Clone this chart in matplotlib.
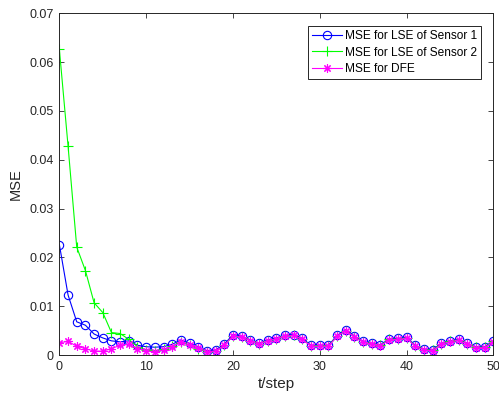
import matplotlib
matplotlib.use("Agg")
import matplotlib.pyplot as plt
import numpy as np

plt.rcParams['font.family'] = ['Liberation Sans', 'DejaVu Sans']

t = np.arange(0, 51)

# MSE for LSE of sensor 1
mse_s1 = [0.0226, 0.0123, 0.0068, 0.0061, 0.0043, 0.0035, 0.0029, 0.0027, 0.0029, 0.0020,
          0.0017, 0.0016, 0.0017, 0.0022, 0.0031, 0.0024, 0.0017, 0.0009, 0.0010, 0.0022,
          0.0042, 0.0039, 0.0031, 0.0024, 0.0031, 0.0035, 0.0040, 0.0042, 0.0034, 0.0020,
          0.0020, 0.0020, 0.0040, 0.0052, 0.0039, 0.0028, 0.0024, 0.0021, 0.0033, 0.0034,
          0.0036, 0.0020, 0.0012, 0.0011, 0.0024, 0.0029, 0.0032, 0.0024, 0.0017, 0.0017,
          0.0029]

# MSE for LSE of sensor 2
mse_s2 = [0.0626, 0.0428, 0.0221, 0.0173, 0.0107, 0.0087, 0.0046, 0.0044, 0.0032, 0.0017,
          0.0011, 0.0009, 0.0012, 0.0018, 0.0027, 0.0020, 0.0013, 0.0006, 0.0008, 0.0020,
          0.0039, 0.0037, 0.0029, 0.0023, 0.0029, 0.0033, 0.0038, 0.0040, 0.0032, 0.0019,
          0.0019, 0.0019, 0.0038, 0.0050, 0.0037, 0.0027, 0.0023, 0.0020, 0.0032, 0.0033,
          0.0035, 0.0019, 0.0011, 0.0010, 0.0023, 0.0028, 0.0031, 0.0023, 0.0016, 0.0016,
          0.0028]

# MSE for DFE
mse_dfe = [0.0025, 0.0028, 0.0018, 0.0013, 0.0008, 0.0008, 0.0013, 0.0020, 0.0022, 0.0013,
           0.0009, 0.0006, 0.0010, 0.0017, 0.0026, 0.0020, 0.0014, 0.0007, 0.0008, 0.0020,
           0.0039, 0.0037, 0.0029, 0.0022, 0.0029, 0.0033, 0.0038, 0.0040, 0.0032, 0.0018,
           0.0018, 0.0018, 0.0038, 0.0050, 0.0037, 0.0026, 0.0022, 0.0019, 0.0031, 0.0032,
           0.0034, 0.0018, 0.0010, 0.0009, 0.0022, 0.0027, 0.0030, 0.0022, 0.0015, 0.0015,
           0.0027]

fig = plt.figure(figsize=(4.99, 3.98), dpi=100)
ax = fig.add_axes([0.119, 0.108, 0.8696, 0.8586])

ax.plot(t, mse_s1, color='b', marker='o', ms=6, mfc='none', lw=0.8, mew=0.8,
        label='MSE for LSE of Sensor 1')
ax.plot(t, mse_s2, color='#00ff00', marker='+', ms=6.5, lw=0.8, mew=0.8,
        label='MSE for LSE of Sensor 2')
ax.plot(t, mse_dfe, color='#ff00ff', marker=(8, 2, 0), ms=6, lw=0.8, mew=0.8,
        label='MSE for DFE')

ax.set_xlim(0, 50)
ax.set_ylim(0, 0.07)
ax.set_xticks([0, 10, 20, 30, 40, 50])
ax.set_yticks([0, 0.01, 0.02, 0.03, 0.04, 0.05, 0.06, 0.07])
ax.set_yticklabels(['0', '0.01', '0.02', '0.03', '0.04', '0.05', '0.06', '0.07'])
ax.tick_params(direction='in', top=True, right=True, length=3.5, width=0.6,
               labelsize=9, colors='#262626', pad=4)
for s in ax.spines.values():
    s.set_linewidth(0.7)
    s.set_color('#262626')

ax.set_xlabel('t/step', fontsize=11, color='#262626', labelpad=3)
ax.set_ylabel('MSE', fontsize=10.5, color='#262626', labelpad=5)

leg = ax.legend(loc='upper right', bbox_to_anchor=(0.9716, 0.963), fontsize=8.6,
                fancybox=False, framealpha=1, edgecolor='#262626',
                handlelength=2.5, borderpad=0.35, labelspacing=0.38, handletextpad=0.25,
                borderaxespad=0)
leg.get_frame().set_linewidth(0.7)

fig.savefig('out.png', dpi=100)
